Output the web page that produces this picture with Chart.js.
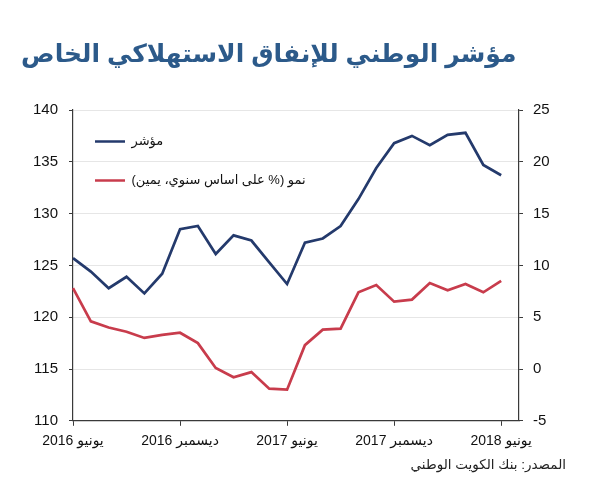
<!DOCTYPE html>
<html>
<head>
<meta charset="utf-8">
<script src="https://cdn.jsdelivr.net/npm/chart.js@4/dist/chart.umd.min.js"></script>
<style>
html,body{margin:0;padding:0;background:#fff;}
#wrap{width:590px;height:500px;}
</style>
</head>
<body>
<div id="wrap"><canvas id="c" width="590" height="500"></canvas></div>
<script>
// Monthly categories, June 2016 – July 2018 (last slot left empty, as in the source chart)
const months = [
  'يونيو 2016','يوليو 2016','أغسطس 2016','سبتمبر 2016','أكتوبر 2016','نوفمبر 2016','ديسمبر 2016',
  'يناير 2017','فبراير 2017','مارس 2017','أبريل 2017','مايو 2017','يونيو 2017','يوليو 2017',
  'أغسطس 2017','سبتمبر 2017','أكتوبر 2017','نوفمبر 2017','ديسمبر 2017','يناير 2018','فبراير 2018',
  'مارس 2018','أبريل 2018','مايو 2018','يونيو 2018','يوليو 2018'
];
// Index (left axis)
const indexValues = [125.7,124.4,122.8,123.9,122.3,124.2,128.5,128.8,126.1,127.9,127.4,125.3,123.2,
  127.2,127.6,128.8,131.4,134.4,136.8,137.5,136.6,137.6,137.8,134.7,133.7];
// Growth % y/y (right axis)
const growthValues = [7.8,4.6,4.0,3.6,3.0,3.3,3.5,2.5,0.1,-0.8,-0.3,-1.9,-2.0,
  2.3,3.8,3.9,7.4,8.1,6.5,6.7,8.3,7.6,8.2,7.4,8.5];
// Which months carry a tick label
const tickMonths = ['يونيو 2016','ديسمبر 2016','يونيو 2017','ديسمبر 2017','يونيو 2018'];
const seriesNames = ['مؤشر','نمو (% على اساس سنوي، يمين)'];
const titleText = 'مؤشر الوطني للإنفاق الاستهلاكي الخاص';
const sourceText = 'المصدر: بنك الكويت الوطني';

const FONT = "'Liberation Sans', Arial, 'DejaVu Sans', sans-serif";
const AXIS = '#3a3a3a';
const rtl = s => '\u202B' + s + '\u202C';

// Place the in-plot legend at the top-left corner of the plot area
const legendPlacer = {
  id: 'legendPlacer',
  afterLayout(chart) {
    const lg = chart.legend, ca = chart.chartArea;
    if (!lg) return;
    lg.left = ca.left - 4;
    lg.top = ca.top - 1;
    lg.right = lg.left + lg.width;
    lg.bottom = lg.top + lg.height;
  }
};

new Chart(document.getElementById('c'), {
  type: 'line',
  data: {
    labels: months,
    datasets: [
      {label: seriesNames[0], data: indexValues, yAxisID: 'y', borderColor: '#243a6c', backgroundColor: '#243a6c',
       borderWidth: 2.7, pointRadius: 0, tension: 0},
      {label: seriesNames[1], data: growthValues, yAxisID: 'y1', borderColor: '#c83c4c', backgroundColor: '#c83c4c',
       borderWidth: 2.7, pointRadius: 0, tension: 0}
    ]
  },
  plugins: [legendPlacer],
  options: {
    responsive: false,
    animation: false,
    layout: {padding: {left: 21, right: 24, top: 0, bottom: 0}},
    plugins: {
      title: {display: true, text: titleText, align: 'start', color: '#2c5a8a',
        font: {family: FONT, size: 25, weight: 'bold', lineHeight: 1.2}, padding: {top: 40, bottom: 40}},
      subtitle: {display: true, text: sourceText, position: 'bottom', align: 'end', color: '#222',
        font: {family: FONT, size: 13.5, lineHeight: 1.2}, padding: {top: 6, bottom: 27}},
      legend: {position: 'chartArea', align: 'start',
        labels: {usePointStyle: true, pointStyle: 'line', pointStyleWidth: 30, boxHeight: 12, padding: 26,
          color: '#111', font: {family: FONT, size: 13},
          generateLabels: chart => Chart.defaults.plugins.legend.labels.generateLabels(chart)
            .map(it => Object.assign(it, {text: rtl(it.text)}))}},
      tooltip: {enabled: false}
    },
    scales: {
      x: {
        grid: {drawOnChartArea: false, drawTicks: true, tickLength: 5, tickColor: AXIS, color: AXIS},
        border: {display: true, color: AXIS, width: 1.2},
        ticks: {autoSkip: false, maxRotation: 0, padding: 7, color: '#111', font: {family: FONT, size: 14},
          callback: function(v, i) { const l = months[i]; return tickMonths.includes(l) ? rtl(l) : null; }},
        afterFit: a => { a.height = 30; }
      },
      y: {
        position: 'left', min: 110, max: 140,
        grid: {color: '#e6e6e6', tickColor: AXIS, tickLength: 4},
        border: {display: true, color: AXIS, width: 1.2},
        ticks: {stepSize: 5, padding: 11, color: '#111', font: {family: FONT, size: 15}},
        afterFit: a => { a.width = 52; }
      },
      y1: {
        position: 'right', min: -5, max: 25,
        grid: {drawOnChartArea: false, tickColor: AXIS, tickLength: 4, color: AXIS},
        border: {display: true, color: AXIS, width: 1.2},
        ticks: {stepSize: 5, padding: 10, color: '#111', font: {family: FONT, size: 15}},
        afterFit: a => { a.width = 47; }
      }
    }
  }
});
</script>
</body>
</html>
